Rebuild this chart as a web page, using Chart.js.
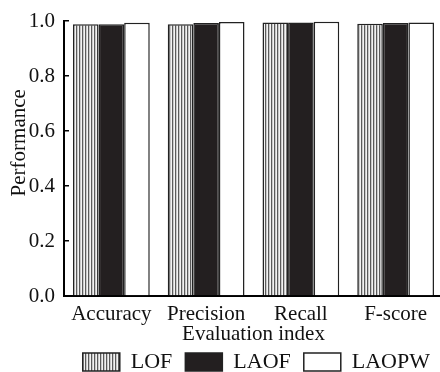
<!DOCTYPE html>
<html lang="en">
<head>
  <meta charset="UTF-8">
  <title>Performance by evaluation index</title>
  <style>
    * { margin: 0; padding: 0; box-sizing: border-box; }
    body { background: #fff; overflow: hidden; width: 440px; height: 372px; }
    canvas { display: block; }
  </style>
  <script src="https://cdn.jsdelivr.net/npm/chart.js"></script>
</head>
<body>
  <canvas id="perfChart" width="444" height="372"></canvas>

  <script>
    // categories and values
    const categories = ['Accuracy', 'Precision', 'Recall', 'F-score'];
    const seriesNames = ['LOF', 'LAOF', 'LAOPW'];
    const lofValues = [0.988, 0.988, 0.995, 0.990];
    const laofValues = [0.988, 0.993, 0.995, 0.993];
    const laopwValues = [0.994, 0.996, 0.997, 0.995];
    const yTicks = [0.0, 0.2, 0.4, 0.6, 0.8, 1.0];

    const serif = 'Liberation Serif, Times New Roman, serif';

    // vertical hatch for LOF
    function stripePattern() {
      const c = document.createElement('canvas');
      c.width = 3;
      c.height = 4;
      const g = c.getContext('2d');
      const cols = ['#f2f2f2', '#5a5a5a', '#c8c8c8'];
      cols.forEach((col, i) => {
        g.fillStyle = col;
        g.fillRect(i, 0, 1, 4);
      });
      return g.createPattern(c, 'repeat');
    }

    const ctx = document.getElementById('perfChart').getContext('2d');
    const hatch = stripePattern();

    new Chart(ctx, {
      type: 'bar',
      data: {
        labels: categories,
        datasets: [
          { label: seriesNames[0], data: lofValues, backgroundColor: hatch },
          { label: seriesNames[1], data: laofValues, backgroundColor: '#231f20' },
          { label: seriesNames[2], data: laopwValues, backgroundColor: '#ffffff' }
        ]
      },
      options: {
        responsive: false,
        animation: false,
        layout: { padding: { top: 21, right: 1, left: 0, bottom: 0 } },
        datasets: {
          bar: {
            borderColor: '#222',
            borderWidth: 1.5,
            barPercentage: 1,
            categoryPercentage: 0.81
          }
        },
        plugins: {
          tooltip: { enabled: false },
          legend: {
            position: 'bottom',
            align: 'end',
            maxHeight: 34,
            labels: {
              color: '#111',
              font: { family: serif, size: 22 },
              boxWidth: 37,
              boxHeight: 18,
              padding: 13
            }
          }
        },
        scales: {
          x: {
            afterFit: s => { s.height = 42; },
            grid: { display: true, drawOnChartArea: false, drawTicks: false },
            border: { color: '#000', width: 2 },
            ticks: {
              color: '#111',
              padding: 6,
              maxRotation: 0,
              font: { family: serif, size: 21 }
            },
            title: {
              display: true,
              text: 'Evaluation index',
              color: '#111',
              padding: { top: 0, bottom: -9 },
              font: { family: serif, size: 21 }
            }
          },
          y: {
            min: 0,
            max: 1,
            afterFit: s => {
              s.width = 64;
              s.paddingTop = 0;
              s.paddingBottom = 0;
            },
            afterBuildTicks: s => { s.ticks = yTicks.map(v => ({ value: v })); },
            grid: {
              drawOnChartArea: false,
              drawTicks: true,
              tickLength: -5,
              color: '#000',
              lineWidth: 1.5
            },
            border: { color: '#000', width: 2 },
            ticks: {
              color: '#111',
              padding: 14,
              font: { family: serif, size: 21 },
              callback: v => Number(v).toFixed(1)
            },
            title: {
              display: true,
              // leading spaces nudge the label up, as in the figure
              text: '      Performance',
              color: '#111',
              padding: { top: 7, bottom: 0 },
              font: { family: serif, size: 21 }
            }
          }
        }
      }
    });
  </script>
</body>
</html>
